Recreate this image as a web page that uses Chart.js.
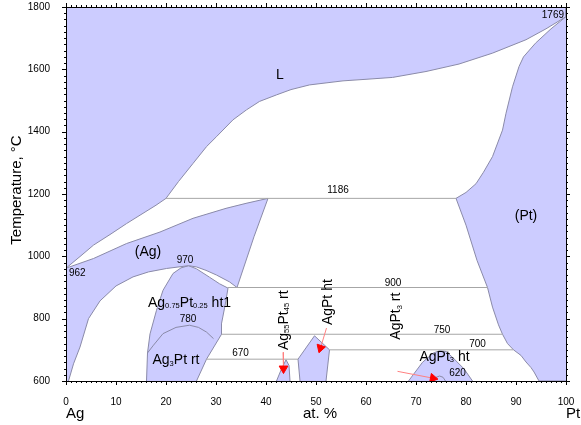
<!DOCTYPE html>
<html>
<head>
<meta charset="utf-8">
<script src="https://cdn.jsdelivr.net/npm/chart.js@4/dist/chart.umd.min.js"></script>
<style>
body{margin:0;background:#fff}
#wrap{width:581px;height:425px}
</style>
</head>
<body>
<div id="wrap"><canvas id="c" width="581" height="425"></canvas></div>
<script>
// phase boundaries, [at.% Pt, temperature °C]
const liquidus = [[0,962],[3,1002],[5.5,1036],[9,1072],[12.1,1105],[15.4,1138],[18,1164],[20,1186],[22.5,1240],[25.4,1298],[28.1,1352],[30.1,1384],[33.4,1438],[36.1,1470],[38.7,1497],[42.1,1518],[45,1535],[48.7,1550],[55.4,1563],[60,1568],[65.3,1574],[72,1593],[78.6,1617],[85.3,1652],[92,1695],[96,1730],[100,1769]]
const solidusAg = [[0,962],[5.5,993],[12.1,1041],[18.8,1078],[25.4,1122],[32,1154],[36,1170],[40.4,1186]]
const solvusAg = [[40.4,1186],[37.6,1063],[34.2,900]]
const agLowerRight = [[34.2,900],[32.7,918],[30.1,940],[28,955],[26.1,966],[24.5,970]]
const agLowerLeft = [[24.5,970],[20.1,961],[16.5,950],[13.4,934],[10,905],[6.8,857],[4.5,800],[2.8,709],[1.5,655],[0.5,600]]
const solidusPt = [[100,1769],[97,1730],[93.9,1684],[91.5,1640],[90.6,1609],[89.3,1544],[88,1459],[87.3,1405],[85.3,1320],[83.5,1270],[82,1233],[80,1205],[78,1186]]
const solvusPt = [[78,1186],[80,1100],[82.2,987],[84.3,900],[85.3,837],[86.5,780],[87.3,750],[88.3,720],[89.5,700],[91,682],[92,661],[93,643],[93.6,629],[94.6,600]]
const ht1Left = [[16.1,600],[16.3,690],[16.8,751],[18.1,827],[19.4,891],[21.4,945],[23,963],[24.5,970]]
const ht1Right = [[24.5,970],[26.1,960],[28.7,933],[30.7,912],[32.4,898],[31.9,850],[31.1,784],[31.1,750],[28.1,670],[26.1,600]]
const dome780 = [[16.3,690],[17.5,715],[19.4,752],[22,772],[24.7,779],[26.5,772],[28.1,757],[29.5,736]]
const ag55pt45 = [[42.1,600],[43,635],[44,668],[44.6,650],[44.8,600]]
const agPtHt = [[46.8,600],[46.4,670],[49.7,745],[52.7,700],[52,600]]
const agPt3Ht = [[68.5,600],[71.3,660],[73.5,690],[74.7,697],[76,695],[77.3,676],[79.6,639],[81.3,600]]
const dome620 = [[73.4,600],[73.9,611],[74.7,616],[75.4,612],[75.9,600]]
const tieLines = [[[20,1186],[78,1186]],[[32.4,900],[84.3,900]],[[31.1,750],[87.3,750]],[[52.7,700],[89.5,700]],[[28.1,670],[46.4,670]]]
const arrows = [[[43.4,692],[43.5,640]],[[52.1,770],[50.9,706]],[[66.3,631],[73.4,609]]]
const arrowAngles = [180,198,101]

const xTicks = [0,10,20,30,40,50,60,70,80,90,100]
const yTicks = [600,800,1000,1200,1400,1600,1800]

const labels = [
  {t:'L', x:42.8, y:1582, size:14},
  {t:'1769', x:99.6, y:1775, size:10, align:'right'},
  {t:'1186', x:54.4, y:1212, size:10},
  {t:'(Ag)', x:16.4, y:1014, size:14},
  {t:'(Pt)', x:92, y:1129, size:14},
  {t:'962', x:0.6, y:946, size:10, align:'left'},
  {t:'970', x:23.8, y:988, size:10},
  {t:'900', x:65.4, y:913, size:10},
  {t:'Ag_{0.75}Pt_{0.25} ht1', x:16.4, y:850, size:14, align:'left'},
  {t:'780', x:24.4, y:798, size:10},
  {t:'Ag_{3}Pt rt', x:17.3, y:666, size:14, align:'left'},
  {t:'670', x:34.9, y:688, size:10},
  {t:'750', x:75.2, y:763, size:10},
  {t:'700', x:82.3, y:717, size:10},
  {t:'AgPt_{3} ht', x:70.7, y:677, size:14, align:'left'},
  {t:'620', x:78.3, y:624, size:10},
  {t:'Ag_{55}Pt_{45} rt', x:43.6, y:795, size:14, rot:true},
  {t:'AgPt ht', x:52.4, y:853, size:14, rot:true},
  {t:'AgPt_{3} rt', x:66.1, y:808, size:14, rot:true}
]

const FONT = "'Liberation Sans', Arial, sans-serif"
const FILL = '#ccccff'
const EDGE = '#8a8aa8'

const pts = a => a.map(p => ({x:p[0], y:p[1]}))

// single phase fields as closed shapes
const polyL = [[0,1800],[100,1800]].concat(liquidus.slice().reverse())
const polyAg = [[0,600]].concat(solidusAg, solvusAg.slice(1), agLowerRight.slice(1), agLowerLeft.slice(1))
const polyPt = solidusPt.concat(solvusPt.slice(1), [[100,600]])
const polyHt1 = ht1Left.concat(ht1Right.slice(1))

const shapes = [polyL, polyAg, polyPt, polyHt1, ag55pt45, agPtHt, agPt3Ht]

const datasets = []
shapes.forEach(s => datasets.push({
  data: pts(s), fill:'shape', backgroundColor:FILL, borderColor:EDGE,
  borderWidth:1, pointRadius:0, order:3
}))
tieLines.forEach(s => datasets.push({
  data: pts(s), fill:false, borderColor:'#a6a6a6', borderWidth:1, pointRadius:0, order:2
}))
;[dome780, dome620].forEach(s => datasets.push({
  data: pts(s), fill:false, borderColor:EDGE, borderWidth:1, pointRadius:0, order:2
}))
arrows.forEach((s, i) => datasets.push({
  data: pts(s), fill:false, borderColor:'#ff8080', borderWidth:1,
  pointRadius:[0,5], pointStyle:'triangle', rotation:arrowAngles[i],
  pointBackgroundColor:'#ff0000', pointBorderColor:'#ff0000', order:1
}))

function richText(str, size) {
  const parts = str.split(/_\{([^}]*)\}/)
  return parts.map((p, i) => ({t:p, sub: i % 2 === 1, size: i % 2 ? size * 0.54 : size}))
}

const labelPlugin = {
  id:'labels',
  afterDatasetsDraw(chart) {
    const ctx = chart.ctx, xs = chart.scales.x, ys = chart.scales.y
    ctx.save()
    ctx.fillStyle = '#000'
    ctx.textBaseline = 'middle'
    labels.forEach(l => {
      const segs = richText(l.t, l.size)
      let w = 0
      segs.forEach(s => { ctx.font = s.size + 'px ' + FONT; s.w = ctx.measureText(s.t).width; w += s.w })
      const px = xs.getPixelForValue(l.x), py = ys.getPixelForValue(l.y)
      ctx.save()
      ctx.translate(px, py)
      if (l.rot) ctx.rotate(-Math.PI / 2)
      let x0 = l.align === 'left' ? 0 : l.align === 'right' ? -w : -w / 2
      ctx.textAlign = 'left'
      segs.forEach(s => {
        ctx.font = s.size + 'px ' + FONT
        ctx.fillText(s.t, x0, s.sub ? l.size * 0.22 : 0)
        x0 += s.w
      })
      ctx.restore()
    })
    ctx.restore()
  }
}

const framePlugin = {
  id:'frame',
  afterDraw(chart) {
    const ctx = chart.ctx, a = chart.chartArea, xs = chart.scales.x, ys = chart.scales.y
    ctx.save()
    ctx.strokeStyle = '#000'
    ctx.lineWidth = 1
    ctx.strokeRect(Math.round(a.left) + 0.5, Math.round(a.top) + 0.5, Math.round(a.right - a.left), Math.round(a.bottom - a.top))
    ctx.beginPath()
    for (let v = 0; v <= 100; v++) {
      const x = Math.round(xs.getPixelForValue(v)) + 0.5
      const len = v % 10 === 0 ? 4 : 2
      ctx.moveTo(x, a.bottom); ctx.lineTo(x, a.bottom + len)
      ctx.moveTo(x, a.top); ctx.lineTo(x, a.top - len)
    }
    for (let v = 600; v <= 1800; v += 20) {
      const y = Math.round(ys.getPixelForValue(v)) + 0.5
      const len = v % 200 === 0 ? 4 : 2
      ctx.moveTo(a.left, y); ctx.lineTo(a.left - len, y)
      ctx.moveTo(a.right, y); ctx.lineTo(a.right + len, y)
    }
    ctx.stroke()

    ctx.fillStyle = '#000'
    ctx.textBaseline = 'middle'
    ctx.font = '15px ' + FONT
    ctx.textAlign = 'left'
    ctx.fillText('Ag', 66, 414)
    ctx.fillText('Pt', 566, 414)
    ctx.textAlign = 'center'
    ctx.fillText('at. %', 320, 414)
    ctx.save()
    ctx.translate(17, 190)
    ctx.rotate(-Math.PI / 2)
    ctx.fillText('Temperature, °C', 0, 0)
    ctx.restore()
    ctx.restore()
  }
}

new Chart(document.getElementById('c'), {
  type:'line',
  data:{datasets},
  options:{
    responsive:false,
    animation:false,
    layout:{padding:{left:0, right:15, top:7, bottom:0}},
    plugins:{legend:{display:false}, tooltip:{enabled:false}},
    scales:{
      x:{
        type:'linear', min:0, max:100,
        afterBuildTicks: s => { s.ticks = xTicks.map(v => ({value:v})) },
        afterFit: s => { s.height = 44; s.paddingLeft = 0; s.paddingRight = 0 },
        grid:{display:false},
        border:{display:false},
        ticks:{color:'#000', font:{family:FONT, size:10}, padding:7, autoSkip:false, maxRotation:0, callback: v => String(v)}
      },
      y:{
        type:'linear', min:600, max:1800,
        afterBuildTicks: s => { s.ticks = yTicks.map(v => ({value:v})) },
        afterFit: s => { s.width = 66; s.paddingTop = 0; s.paddingBottom = 0 },
        grid:{display:false},
        border:{display:false},
        ticks:{color:'#000', font:{family:FONT, size:10}, padding:8, callback: v => String(v)}
      }
    }
  },
  plugins:[labelPlugin, framePlugin]
})
</script>
</body>
</html>
